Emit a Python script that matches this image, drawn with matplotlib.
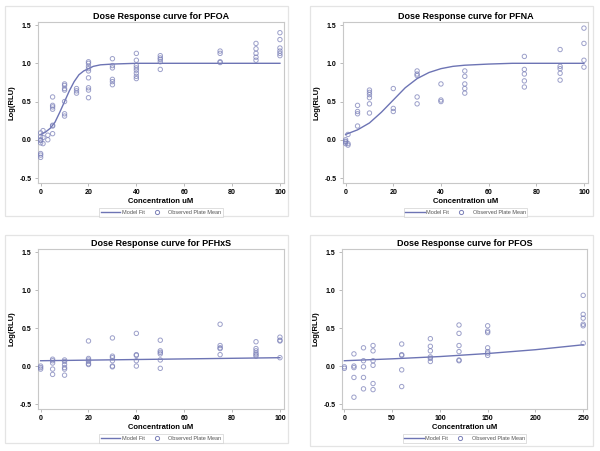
import numpy as np
import matplotlib
matplotlib.use("Agg")
import matplotlib.pyplot as plt
from matplotlib.patches import Rectangle
from matplotlib.lines import Line2D

plt.rcParams['font.family'] = ['Liberation Sans', 'DejaVu Sans']

# ---- PFOA ----
pfoa_x = [0]*8 + [1]*3 + [3]*2 + [5]*7 + [10]*7 + [15]*3 + [20]*9 + [30]*6 + [40]*8 + [50]*5 + [75]*4 + [90]*5 + [100]*6
pfoa_y = [0.09, 0.04, 0.0, -0.01, -0.04, -0.18, -0.20, -0.23,
          0.12, 0.03, -0.05,
          0.06, 0.0,
          0.56, 0.45, 0.43, 0.40, 0.19, 0.18, 0.08,
          0.73, 0.71, 0.67, 0.65, 0.50, 0.34, 0.31,
          0.67, 0.64, 0.61,
          1.02, 1.00, 0.96, 0.93, 0.90, 0.81, 0.68, 0.65, 0.55,
          1.06, 0.97, 0.94, 0.79, 0.76, 0.72,
          1.13, 1.04, 0.97, 0.94, 0.91, 0.87, 0.83, 0.80,
          1.10, 1.07, 1.05, 1.02, 0.92,
          1.16, 1.13, 1.02, 1.01,
          1.26, 1.19, 1.13, 1.08, 1.04,
          1.40, 1.31, 1.20, 1.16, 1.13, 1.10]
pfoa_fit_x = [0, 2, 4, 6, 8, 10, 12, 14, 16, 18, 20, 22, 25, 30, 40, 100]
pfoa_fit_y = [0.07, 0.10, 0.15, 0.23, 0.36, 0.50, 0.64, 0.76, 0.85, 0.90, 0.93, 0.96, 0.98, 0.99, 1.0, 1.0]

# ---- PFNA ----
pfna_x = [0]*4 + [1]*3 + [5]*4 + [10]*6 + [20]*3 + [30]*5 + [40]*3 + [50]*5 + [75]*5 + [90]*5 + [100]*4
pfna_y = [0.0, -0.02, -0.03, -0.05,
          0.07, -0.05, -0.07,
          0.45, 0.37, 0.34, 0.18,
          0.65, 0.62, 0.59, 0.55, 0.47, 0.35,
          0.67, 0.41, 0.37,
          0.90, 0.86, 0.84, 0.56, 0.47,
          0.73, 0.52, 0.50,
          0.90, 0.83, 0.73, 0.67, 0.61,
          1.09, 0.92, 0.86, 0.77, 0.69,
          1.18, 0.96, 0.93, 0.87, 0.78,
          1.46, 1.26, 1.04, 0.95]
pfna_fit_x = [0, 5, 10, 15, 20, 25, 30, 35, 40, 45, 50, 60, 70, 100]
pfna_fit_y = [0.07, 0.13, 0.22, 0.36, 0.52, 0.68, 0.80, 0.88, 0.93, 0.96, 0.975, 0.99, 1.0, 1.0]

# ---- PFHxS ----
pfhxs_x = [0]*3 + [5]*5 + [10]*6 + [20]*6 + [30]*6 + [40]*5 + [50]*6 + [75]*5 + [90]*6 + [100]*4
pfhxs_y = [0.0, -0.02, -0.04,
           0.09, 0.07, 0.04, -0.04, -0.11,
           0.08, 0.06, 0.02, -0.02, -0.04, -0.12,
           0.33, 0.10, 0.08, 0.06, 0.03, 0.02,
           0.37, 0.13, 0.11, 0.07, 0.0, -0.01,
           0.43, 0.15, 0.14, 0.07, 0.0,
           0.34, 0.20, 0.18, 0.16, 0.08, -0.03,
           0.55, 0.27, 0.24, 0.23, 0.15,
           0.32, 0.23, 0.20, 0.17, 0.15, 0.13,
           0.38, 0.34, 0.33, 0.11]
pfhxs_fit_x = [0, 25, 50, 75, 100]
pfhxs_fit_y = [0.07, 0.08, 0.09, 0.10, 0.11]

# ---- PFOS ----
pfos_x = [0]*2 + [10]*5 + [20]*5 + [30]*6 + [60]*5 + [90]*6 + [120]*6 + [150]*7 + [250]*6
pfos_y = [-0.01, -0.03,
          0.16, 0.0, -0.02, -0.15, -0.41,
          0.24, 0.07, -0.01, -0.15, -0.30,
          0.27, 0.20, 0.07, 0.01, -0.23, -0.31,
          0.29, 0.15, 0.14, -0.05, -0.27,
          0.36, 0.26, 0.20, 0.12, 0.10, 0.06,
          0.54, 0.43, 0.27, 0.19, 0.08, 0.07,
          0.53, 0.46, 0.44, 0.24, 0.19, 0.17, 0.14,
          0.93, 0.68, 0.63, 0.55, 0.53, 0.30]
pfos_fit_x = [0, 50, 100, 150, 200, 250]
pfos_fit_y = [0.07, 0.095, 0.125, 0.165, 0.215, 0.28]

panels = [
    ("PFOA", pfoa_x, pfoa_y, pfoa_fit_x, pfoa_fit_y, [0, 20, 40, 60, 80, 100], (-1.1, 101.7)),
    ("PFNA", pfna_x, pfna_y, pfna_fit_x, pfna_fit_y, [0, 20, 40, 60, 80, 100], (-1.1, 101.7)),
    ("PFHxS", pfhxs_x, pfhxs_y, pfhxs_fit_x, pfhxs_fit_y, [0, 20, 40, 60, 80, 100], (-1.1, 101.7)),
    ("PFOS", pfos_x, pfos_y, pfos_fit_x, pfos_fit_y, [0, 50, 100, 150, 200, 250], (-2.5, 254)),
]

W, H = 600, 451
# axes boxes in pixels: left, top, right, bottom
ax_px = [(38, 22, 284, 183), (343, 22, 588, 183), (38, 249, 284, 409), (342, 249, 587, 409)]
frame_px = [(5, 6, 288, 216), (310, 6, 593, 216), (5, 235, 288, 443), (310, 235, 593, 446)]

fig = plt.figure(figsize=(6, 4.51), dpi=100)

for (l, t, r, b) in frame_px:
    fig.patches.append(Rectangle((l / W, 1 - b / H), (r - l) / W, (b - t) / H,
                                 transform=fig.transFigure, fill=False,
                                 edgecolor='#e4e4e4', lw=0.9, zorder=-1))

line_c = '#6d74b4'
pt_c = '#7b80b8'

for (name, xs, ys, fx, fy, xt, xl), (l, t, r, b) in zip(panels, ax_px):
    ax = fig.add_axes([l / W, 1 - b / H, (r - l) / W, (b - t) / H])
    ax.plot(fx, fy, color=line_c, lw=1.0, zorder=2)
    ax.scatter(xs, ys, s=10, facecolors='none', edgecolors=pt_c, linewidths=0.7,
               alpha=0.75, zorder=3)
    ax.set_xlim(*xl)
    ax.set_ylim(-0.565, 1.54)
    ax.set_xticks(xt)
    ax.set_yticks([-0.5, 0.0, 0.5, 1.0, 1.5])
    ax.set_yticklabels(['-0.5', '0.0', '0.5', '1.0', '1.5'])
    for s in ax.spines.values():
        s.set_color('#c8c8c8')
        s.set_linewidth(0.8)
    ax.tick_params(axis='both', labelsize=5, length=2.5, width=0.6, color='#b0b0b0', pad=2)
    for lab in ax.get_xticklabels() + ax.get_yticklabels():
        lab.set_fontweight('bold')
    ax.set_title('Dose Response curve for %s' % name, fontsize=6.5, fontweight='bold', pad=2)
    ax.set_xlabel('Concentration uM', fontsize=5.5, fontweight='bold', labelpad=1)
    ax.set_ylabel('Log(RLU)', fontsize=5.5, fontweight='bold', labelpad=3)
    handles = [Line2D([0], [0], color=line_c, lw=1.0),
               Line2D([0], [0], marker='o', ls='none', markerfacecolor='none',
                      markeredgecolor=pt_c, markersize=3, markeredgewidth=0.7)]
    leg = ax.legend(handles, ['Model Fit', 'Observed Plate Mean'], loc='upper center',
                    bbox_to_anchor=(0.5, -0.14), ncol=2, fontsize=4, frameon=True,
                    fancybox=False, handlelength=3.5, columnspacing=0.4,
                    handletextpad=0.3, borderpad=0.3)
    leg.set_zorder(10)
    leg.get_frame().set_edgecolor('#d0d0d0')
    leg.get_frame().set_linewidth(0.6)
    for txt in leg.get_texts():
        txt.set_color('#555555')

fig.savefig('out.png', dpi=100)
